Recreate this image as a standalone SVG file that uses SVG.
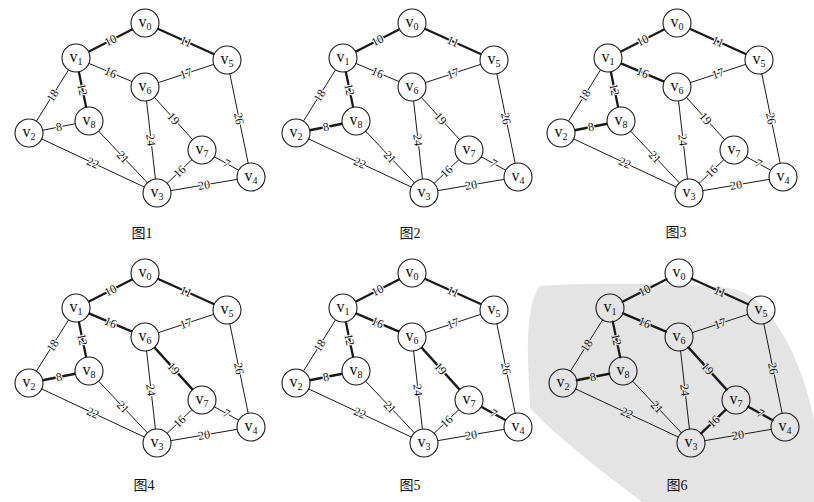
<svg xmlns="http://www.w3.org/2000/svg" width="814" height="502" viewBox="0 0 814 502">
<style>
.bg{fill:#ffffff}
.wm{fill:#e4e4e4}
.edges line{stroke:#1a1a1a;stroke-width:1;stroke-linecap:round}
.edges line.mst{stroke-width:2.3}
.w{font-family:"Liberation Serif","Times New Roman",serif;font-size:12px;fill:#111111;text-anchor:middle;dominant-baseline:central;stroke:#ffffff;stroke-width:2.2px;paint-order:stroke;stroke-linejoin:round}
.gray .w{stroke:#e4e4e4}
.node circle{fill:#ffffff;stroke:#1a1a1a;stroke-width:1.1}
.gray .node circle{fill:none}
.node text{font-family:"Liberation Serif","Times New Roman",serif;font-size:16px;fill:#111111;text-anchor:middle}
.node tspan{font-size:10px}
.cap{font-family:"Liberation Serif","Noto Sans CJK SC",serif;font-size:14px;fill:#111111;text-anchor:middle}
</style>
<rect class="bg" x="0" y="0" width="814" height="502"/>
<path class="wm" d="M540,286 C531,296 527,325 528,360 L530,408 C560,440 600,470 642,502 L814,502 L814,420 C806,380 792,345 772,318 C758,300 748,291 728,288 C690,284 600,282 540,286 Z"/>

<g id="fig1">
<g id="fig1-connectors" class="edges">
<line class="mst" x1="132.51" y1="29.33" x2="88.49" y2="51.67"/>
<line class="mst" x1="157.76" y1="28.76" x2="214.24" y2="54.24"/>
<line x1="88.91" y1="63.42" x2="132.09" y2="81.58"/>
<line x1="213.70" y1="64.38" x2="158.30" y2="82.62"/>
<line x1="68.57" y1="69.86" x2="36.43" y2="121.14"/>
<line class="mst" x1="78.83" y1="71.71" x2="86.17" y2="107.29"/>
<line x1="42.73" y1="130.25" x2="75.27" y2="123.75"/>
<line x1="146.57" y1="100.91" x2="155.43" y2="179.09"/>
<line x1="154.39" y1="97.38" x2="192.61" y2="139.62"/>
<line x1="229.81" y1="73.71" x2="248.19" y2="163.29"/>
<line x1="98.61" y1="131.18" x2="147.39" y2="182.82"/>
<line x1="41.68" y1="138.94" x2="144.32" y2="187.06"/>
<line x1="191.88" y1="159.67" x2="167.12" y2="183.33"/>
<line x1="214.26" y1="156.76" x2="238.74" y2="170.24"/>
<line x1="170.80" y1="190.65" x2="237.20" y2="179.35"/>
<text class="w" x="110.5" y="40.5" transform="rotate(-26.9 110.5 40.5)">10</text>
<text class="w" x="186" y="41.5" transform="rotate(24.3 186 41.5)">11</text>
<text class="w" x="110.5" y="72.5" transform="rotate(22.8 110.5 72.5)">16</text>
<text class="w" x="186" y="73.5" transform="rotate(-18.2 186 73.5)">17</text>
<text class="w" x="52.5" y="95.5" transform="rotate(-57.9 52.5 95.5)">18</text>
<text class="w" x="82.5" y="89.5" transform="rotate(78.3 82.5 89.5)">12</text>
<text class="w" x="59" y="127" transform="rotate(-11.3 59 127)">8</text>
<text class="w" x="151" y="140" transform="rotate(83.5 151 140)">24</text>
<text class="w" x="173.5" y="118.5" transform="rotate(47.9 173.5 118.5)">19</text>
<text class="w" x="239" y="118.5" transform="rotate(78.4 239 118.5)">26</text>
<text class="w" x="123" y="157" transform="rotate(46.6 123 157)">21</text>
<text class="w" x="93" y="163" transform="rotate(25.1 93 163)">22</text>
<text class="w" x="179.5" y="171.5" transform="rotate(-43.7 179.5 171.5)">16</text>
<text class="w" x="226.5" y="163.5" transform="rotate(28.9 226.5 163.5)">7</text>
<text class="w" x="204" y="185" transform="rotate(-9.7 204 185)">20</text>
</g>
<g id="fig1-v0" class="node"><circle cx="145" cy="23" r="14"/><text x="145" y="27">v<tspan dy="3">0</tspan></text></g>
<g id="fig1-v1" class="node"><circle cx="76" cy="58" r="14"/><text x="76" y="62">v<tspan dy="3">1</tspan></text></g>
<g id="fig1-v2" class="node"><circle cx="29" cy="133" r="14"/><text x="29" y="137">v<tspan dy="3">2</tspan></text></g>
<g id="fig1-v3" class="node"><circle cx="157" cy="193" r="14"/><text x="157" y="197">v<tspan dy="3">3</tspan></text></g>
<g id="fig1-v4" class="node"><circle cx="251" cy="177" r="14"/><text x="251" y="181">v<tspan dy="3">4</tspan></text></g>
<g id="fig1-v5" class="node"><circle cx="227" cy="60" r="14"/><text x="227" y="64">v<tspan dy="3">5</tspan></text></g>
<g id="fig1-v6" class="node"><circle cx="145" cy="87" r="14"/><text x="145" y="91">v<tspan dy="3">6</tspan></text></g>
<g id="fig1-v7" class="node"><circle cx="202" cy="150" r="14"/><text x="202" y="154">v<tspan dy="3">7</tspan></text></g>
<g id="fig1-v8" class="node"><circle cx="89" cy="121" r="14"/><text x="89" y="125">v<tspan dy="3">8</tspan></text></g>
<text id="fig1-caption" class="cap" x="142" y="238">图1</text>
</g>

<g id="fig2" transform="translate(267,0)">
<g id="fig2-connectors" class="edges">
<line class="mst" x1="132.51" y1="29.33" x2="88.49" y2="51.67"/>
<line class="mst" x1="157.76" y1="28.76" x2="214.24" y2="54.24"/>
<line x1="88.91" y1="63.42" x2="132.09" y2="81.58"/>
<line x1="213.70" y1="64.38" x2="158.30" y2="82.62"/>
<line x1="68.57" y1="69.86" x2="36.43" y2="121.14"/>
<line class="mst" x1="78.83" y1="71.71" x2="86.17" y2="107.29"/>
<line class="mst" x1="42.73" y1="130.25" x2="75.27" y2="123.75"/>
<line x1="146.57" y1="100.91" x2="155.43" y2="179.09"/>
<line x1="154.39" y1="97.38" x2="192.61" y2="139.62"/>
<line x1="229.81" y1="73.71" x2="248.19" y2="163.29"/>
<line x1="98.61" y1="131.18" x2="147.39" y2="182.82"/>
<line x1="41.68" y1="138.94" x2="144.32" y2="187.06"/>
<line x1="191.88" y1="159.67" x2="167.12" y2="183.33"/>
<line x1="214.26" y1="156.76" x2="238.74" y2="170.24"/>
<line x1="170.80" y1="190.65" x2="237.20" y2="179.35"/>
<text class="w" x="110.5" y="40.5" transform="rotate(-26.9 110.5 40.5)">10</text>
<text class="w" x="186" y="41.5" transform="rotate(24.3 186 41.5)">11</text>
<text class="w" x="110.5" y="72.5" transform="rotate(22.8 110.5 72.5)">16</text>
<text class="w" x="186" y="73.5" transform="rotate(-18.2 186 73.5)">17</text>
<text class="w" x="52.5" y="95.5" transform="rotate(-57.9 52.5 95.5)">18</text>
<text class="w" x="82.5" y="89.5" transform="rotate(78.3 82.5 89.5)">12</text>
<text class="w" x="59" y="127" transform="rotate(-11.3 59 127)">8</text>
<text class="w" x="151" y="140" transform="rotate(83.5 151 140)">24</text>
<text class="w" x="173.5" y="118.5" transform="rotate(47.9 173.5 118.5)">19</text>
<text class="w" x="239" y="118.5" transform="rotate(78.4 239 118.5)">26</text>
<text class="w" x="123" y="157" transform="rotate(46.6 123 157)">21</text>
<text class="w" x="93" y="163" transform="rotate(25.1 93 163)">22</text>
<text class="w" x="179.5" y="171.5" transform="rotate(-43.7 179.5 171.5)">16</text>
<text class="w" x="226.5" y="163.5" transform="rotate(28.9 226.5 163.5)">7</text>
<text class="w" x="204" y="185" transform="rotate(-9.7 204 185)">20</text>
</g>
<g id="fig2-v0" class="node"><circle cx="145" cy="23" r="14"/><text x="145" y="27">v<tspan dy="3">0</tspan></text></g>
<g id="fig2-v1" class="node"><circle cx="76" cy="58" r="14"/><text x="76" y="62">v<tspan dy="3">1</tspan></text></g>
<g id="fig2-v2" class="node"><circle cx="29" cy="133" r="14"/><text x="29" y="137">v<tspan dy="3">2</tspan></text></g>
<g id="fig2-v3" class="node"><circle cx="157" cy="193" r="14"/><text x="157" y="197">v<tspan dy="3">3</tspan></text></g>
<g id="fig2-v4" class="node"><circle cx="251" cy="177" r="14"/><text x="251" y="181">v<tspan dy="3">4</tspan></text></g>
<g id="fig2-v5" class="node"><circle cx="227" cy="60" r="14"/><text x="227" y="64">v<tspan dy="3">5</tspan></text></g>
<g id="fig2-v6" class="node"><circle cx="145" cy="87" r="14"/><text x="145" y="91">v<tspan dy="3">6</tspan></text></g>
<g id="fig2-v7" class="node"><circle cx="202" cy="150" r="14"/><text x="202" y="154">v<tspan dy="3">7</tspan></text></g>
<g id="fig2-v8" class="node"><circle cx="89" cy="121" r="14"/><text x="89" y="125">v<tspan dy="3">8</tspan></text></g>
<text id="fig2-caption" class="cap" x="143" y="238">图2</text>
</g>

<g id="fig3" transform="translate(532,0)">
<g id="fig3-connectors" class="edges">
<line class="mst" x1="132.51" y1="29.33" x2="88.49" y2="51.67"/>
<line class="mst" x1="157.76" y1="28.76" x2="214.24" y2="54.24"/>
<line class="mst" x1="88.91" y1="63.42" x2="132.09" y2="81.58"/>
<line x1="213.70" y1="64.38" x2="158.30" y2="82.62"/>
<line x1="68.57" y1="69.86" x2="36.43" y2="121.14"/>
<line class="mst" x1="78.83" y1="71.71" x2="86.17" y2="107.29"/>
<line class="mst" x1="42.73" y1="130.25" x2="75.27" y2="123.75"/>
<line x1="146.57" y1="100.91" x2="155.43" y2="179.09"/>
<line x1="154.39" y1="97.38" x2="192.61" y2="139.62"/>
<line x1="229.81" y1="73.71" x2="248.19" y2="163.29"/>
<line x1="98.61" y1="131.18" x2="147.39" y2="182.82"/>
<line x1="41.68" y1="138.94" x2="144.32" y2="187.06"/>
<line x1="191.88" y1="159.67" x2="167.12" y2="183.33"/>
<line x1="214.26" y1="156.76" x2="238.74" y2="170.24"/>
<line x1="170.80" y1="190.65" x2="237.20" y2="179.35"/>
<text class="w" x="110.5" y="40.5" transform="rotate(-26.9 110.5 40.5)">10</text>
<text class="w" x="186" y="41.5" transform="rotate(24.3 186 41.5)">11</text>
<text class="w" x="110.5" y="72.5" transform="rotate(22.8 110.5 72.5)">16</text>
<text class="w" x="186" y="73.5" transform="rotate(-18.2 186 73.5)">17</text>
<text class="w" x="52.5" y="95.5" transform="rotate(-57.9 52.5 95.5)">18</text>
<text class="w" x="82.5" y="89.5" transform="rotate(78.3 82.5 89.5)">12</text>
<text class="w" x="59" y="127" transform="rotate(-11.3 59 127)">8</text>
<text class="w" x="151" y="140" transform="rotate(83.5 151 140)">24</text>
<text class="w" x="173.5" y="118.5" transform="rotate(47.9 173.5 118.5)">19</text>
<text class="w" x="239" y="118.5" transform="rotate(78.4 239 118.5)">26</text>
<text class="w" x="123" y="157" transform="rotate(46.6 123 157)">21</text>
<text class="w" x="93" y="163" transform="rotate(25.1 93 163)">22</text>
<text class="w" x="179.5" y="171.5" transform="rotate(-43.7 179.5 171.5)">16</text>
<text class="w" x="226.5" y="163.5" transform="rotate(28.9 226.5 163.5)">7</text>
<text class="w" x="204" y="185" transform="rotate(-9.7 204 185)">20</text>
</g>
<g id="fig3-v0" class="node"><circle cx="145" cy="23" r="14"/><text x="145" y="27">v<tspan dy="3">0</tspan></text></g>
<g id="fig3-v1" class="node"><circle cx="76" cy="58" r="14"/><text x="76" y="62">v<tspan dy="3">1</tspan></text></g>
<g id="fig3-v2" class="node"><circle cx="29" cy="133" r="14"/><text x="29" y="137">v<tspan dy="3">2</tspan></text></g>
<g id="fig3-v3" class="node"><circle cx="157" cy="193" r="14"/><text x="157" y="197">v<tspan dy="3">3</tspan></text></g>
<g id="fig3-v4" class="node"><circle cx="251" cy="177" r="14"/><text x="251" y="181">v<tspan dy="3">4</tspan></text></g>
<g id="fig3-v5" class="node"><circle cx="227" cy="60" r="14"/><text x="227" y="64">v<tspan dy="3">5</tspan></text></g>
<g id="fig3-v6" class="node"><circle cx="145" cy="87" r="14"/><text x="145" y="91">v<tspan dy="3">6</tspan></text></g>
<g id="fig3-v7" class="node"><circle cx="202" cy="150" r="14"/><text x="202" y="154">v<tspan dy="3">7</tspan></text></g>
<g id="fig3-v8" class="node"><circle cx="89" cy="121" r="14"/><text x="89" y="125">v<tspan dy="3">8</tspan></text></g>
<text id="fig3-caption" class="cap" x="144" y="237">图3</text>
</g>

<g id="fig4" transform="translate(0,250)">
<g id="fig4-connectors" class="edges">
<line class="mst" x1="132.51" y1="29.33" x2="88.49" y2="51.67"/>
<line class="mst" x1="157.76" y1="28.76" x2="214.24" y2="54.24"/>
<line class="mst" x1="88.91" y1="63.42" x2="132.09" y2="81.58"/>
<line x1="213.70" y1="64.38" x2="158.30" y2="82.62"/>
<line x1="68.57" y1="69.86" x2="36.43" y2="121.14"/>
<line class="mst" x1="78.83" y1="71.71" x2="86.17" y2="107.29"/>
<line class="mst" x1="42.73" y1="130.25" x2="75.27" y2="123.75"/>
<line x1="146.57" y1="100.91" x2="155.43" y2="179.09"/>
<line class="mst" x1="154.39" y1="97.38" x2="192.61" y2="139.62"/>
<line x1="229.81" y1="73.71" x2="248.19" y2="163.29"/>
<line x1="98.61" y1="131.18" x2="147.39" y2="182.82"/>
<line x1="41.68" y1="138.94" x2="144.32" y2="187.06"/>
<line x1="191.88" y1="159.67" x2="167.12" y2="183.33"/>
<line x1="214.26" y1="156.76" x2="238.74" y2="170.24"/>
<line x1="170.80" y1="190.65" x2="237.20" y2="179.35"/>
<text class="w" x="110.5" y="40.5" transform="rotate(-26.9 110.5 40.5)">10</text>
<text class="w" x="186" y="41.5" transform="rotate(24.3 186 41.5)">11</text>
<text class="w" x="110.5" y="72.5" transform="rotate(22.8 110.5 72.5)">16</text>
<text class="w" x="186" y="73.5" transform="rotate(-18.2 186 73.5)">17</text>
<text class="w" x="52.5" y="95.5" transform="rotate(-57.9 52.5 95.5)">18</text>
<text class="w" x="82.5" y="89.5" transform="rotate(78.3 82.5 89.5)">12</text>
<text class="w" x="59" y="127" transform="rotate(-11.3 59 127)">8</text>
<text class="w" x="151" y="140" transform="rotate(83.5 151 140)">24</text>
<text class="w" x="173.5" y="118.5" transform="rotate(47.9 173.5 118.5)">19</text>
<text class="w" x="239" y="118.5" transform="rotate(78.4 239 118.5)">26</text>
<text class="w" x="123" y="157" transform="rotate(46.6 123 157)">21</text>
<text class="w" x="93" y="163" transform="rotate(25.1 93 163)">22</text>
<text class="w" x="179.5" y="171.5" transform="rotate(-43.7 179.5 171.5)">16</text>
<text class="w" x="226.5" y="163.5" transform="rotate(28.9 226.5 163.5)">7</text>
<text class="w" x="204" y="185" transform="rotate(-9.7 204 185)">20</text>
</g>
<g id="fig4-v0" class="node"><circle cx="145" cy="23" r="14"/><text x="145" y="27">v<tspan dy="3">0</tspan></text></g>
<g id="fig4-v1" class="node"><circle cx="76" cy="58" r="14"/><text x="76" y="62">v<tspan dy="3">1</tspan></text></g>
<g id="fig4-v2" class="node"><circle cx="29" cy="133" r="14"/><text x="29" y="137">v<tspan dy="3">2</tspan></text></g>
<g id="fig4-v3" class="node"><circle cx="157" cy="193" r="14"/><text x="157" y="197">v<tspan dy="3">3</tspan></text></g>
<g id="fig4-v4" class="node"><circle cx="251" cy="177" r="14"/><text x="251" y="181">v<tspan dy="3">4</tspan></text></g>
<g id="fig4-v5" class="node"><circle cx="227" cy="60" r="14"/><text x="227" y="64">v<tspan dy="3">5</tspan></text></g>
<g id="fig4-v6" class="node"><circle cx="145" cy="87" r="14"/><text x="145" y="91">v<tspan dy="3">6</tspan></text></g>
<g id="fig4-v7" class="node"><circle cx="202" cy="150" r="14"/><text x="202" y="154">v<tspan dy="3">7</tspan></text></g>
<g id="fig4-v8" class="node"><circle cx="89" cy="121" r="14"/><text x="89" y="125">v<tspan dy="3">8</tspan></text></g>
<text id="fig4-caption" class="cap" x="144" y="240">图4</text>
</g>

<g id="fig5" transform="translate(267,250)">
<g id="fig5-connectors" class="edges">
<line class="mst" x1="132.51" y1="29.33" x2="88.49" y2="51.67"/>
<line class="mst" x1="157.76" y1="28.76" x2="214.24" y2="54.24"/>
<line class="mst" x1="88.91" y1="63.42" x2="132.09" y2="81.58"/>
<line x1="213.70" y1="64.38" x2="158.30" y2="82.62"/>
<line x1="68.57" y1="69.86" x2="36.43" y2="121.14"/>
<line class="mst" x1="78.83" y1="71.71" x2="86.17" y2="107.29"/>
<line class="mst" x1="42.73" y1="130.25" x2="75.27" y2="123.75"/>
<line x1="146.57" y1="100.91" x2="155.43" y2="179.09"/>
<line class="mst" x1="154.39" y1="97.38" x2="192.61" y2="139.62"/>
<line x1="229.81" y1="73.71" x2="248.19" y2="163.29"/>
<line x1="98.61" y1="131.18" x2="147.39" y2="182.82"/>
<line x1="41.68" y1="138.94" x2="144.32" y2="187.06"/>
<line x1="191.88" y1="159.67" x2="167.12" y2="183.33"/>
<line class="mst" x1="214.26" y1="156.76" x2="238.74" y2="170.24"/>
<line x1="170.80" y1="190.65" x2="237.20" y2="179.35"/>
<text class="w" x="110.5" y="40.5" transform="rotate(-26.9 110.5 40.5)">10</text>
<text class="w" x="186" y="41.5" transform="rotate(24.3 186 41.5)">11</text>
<text class="w" x="110.5" y="72.5" transform="rotate(22.8 110.5 72.5)">16</text>
<text class="w" x="186" y="73.5" transform="rotate(-18.2 186 73.5)">17</text>
<text class="w" x="52.5" y="95.5" transform="rotate(-57.9 52.5 95.5)">18</text>
<text class="w" x="82.5" y="89.5" transform="rotate(78.3 82.5 89.5)">12</text>
<text class="w" x="59" y="127" transform="rotate(-11.3 59 127)">8</text>
<text class="w" x="151" y="140" transform="rotate(83.5 151 140)">24</text>
<text class="w" x="173.5" y="118.5" transform="rotate(47.9 173.5 118.5)">19</text>
<text class="w" x="239" y="118.5" transform="rotate(78.4 239 118.5)">26</text>
<text class="w" x="123" y="157" transform="rotate(46.6 123 157)">21</text>
<text class="w" x="93" y="163" transform="rotate(25.1 93 163)">22</text>
<text class="w" x="179.5" y="171.5" transform="rotate(-43.7 179.5 171.5)">16</text>
<text class="w" x="226.5" y="163.5" transform="rotate(28.9 226.5 163.5)">7</text>
<text class="w" x="204" y="185" transform="rotate(-9.7 204 185)">20</text>
</g>
<g id="fig5-v0" class="node"><circle cx="145" cy="23" r="14"/><text x="145" y="27">v<tspan dy="3">0</tspan></text></g>
<g id="fig5-v1" class="node"><circle cx="76" cy="58" r="14"/><text x="76" y="62">v<tspan dy="3">1</tspan></text></g>
<g id="fig5-v2" class="node"><circle cx="29" cy="133" r="14"/><text x="29" y="137">v<tspan dy="3">2</tspan></text></g>
<g id="fig5-v3" class="node"><circle cx="157" cy="193" r="14"/><text x="157" y="197">v<tspan dy="3">3</tspan></text></g>
<g id="fig5-v4" class="node"><circle cx="251" cy="177" r="14"/><text x="251" y="181">v<tspan dy="3">4</tspan></text></g>
<g id="fig5-v5" class="node"><circle cx="227" cy="60" r="14"/><text x="227" y="64">v<tspan dy="3">5</tspan></text></g>
<g id="fig5-v6" class="node"><circle cx="145" cy="87" r="14"/><text x="145" y="91">v<tspan dy="3">6</tspan></text></g>
<g id="fig5-v7" class="node"><circle cx="202" cy="150" r="14"/><text x="202" y="154">v<tspan dy="3">7</tspan></text></g>
<g id="fig5-v8" class="node"><circle cx="89" cy="121" r="14"/><text x="89" y="125">v<tspan dy="3">8</tspan></text></g>
<text id="fig5-caption" class="cap" x="143" y="240">图5</text>
</g>

<g id="fig6" class="gray" transform="translate(534,250)">
<g id="fig6-connectors" class="edges">
<line class="mst" x1="132.51" y1="29.33" x2="88.49" y2="51.67"/>
<line class="mst" x1="157.76" y1="28.76" x2="214.24" y2="54.24"/>
<line class="mst" x1="88.91" y1="63.42" x2="132.09" y2="81.58"/>
<line x1="213.70" y1="64.38" x2="158.30" y2="82.62"/>
<line x1="68.57" y1="69.86" x2="36.43" y2="121.14"/>
<line class="mst" x1="78.83" y1="71.71" x2="86.17" y2="107.29"/>
<line class="mst" x1="42.73" y1="130.25" x2="75.27" y2="123.75"/>
<line x1="146.57" y1="100.91" x2="155.43" y2="179.09"/>
<line class="mst" x1="154.39" y1="97.38" x2="192.61" y2="139.62"/>
<line x1="229.81" y1="73.71" x2="248.19" y2="163.29"/>
<line x1="98.61" y1="131.18" x2="147.39" y2="182.82"/>
<line x1="41.68" y1="138.94" x2="144.32" y2="187.06"/>
<line class="mst" x1="191.88" y1="159.67" x2="167.12" y2="183.33"/>
<line class="mst" x1="214.26" y1="156.76" x2="238.74" y2="170.24"/>
<line x1="170.80" y1="190.65" x2="237.20" y2="179.35"/>
<text class="w" x="110.5" y="40.5" transform="rotate(-26.9 110.5 40.5)">10</text>
<text class="w" x="186" y="41.5" transform="rotate(24.3 186 41.5)">11</text>
<text class="w" x="110.5" y="72.5" transform="rotate(22.8 110.5 72.5)">16</text>
<text class="w" x="186" y="73.5" transform="rotate(-18.2 186 73.5)">17</text>
<text class="w" x="52.5" y="95.5" transform="rotate(-57.9 52.5 95.5)">18</text>
<text class="w" x="82.5" y="89.5" transform="rotate(78.3 82.5 89.5)">12</text>
<text class="w" x="59" y="127" transform="rotate(-11.3 59 127)">8</text>
<text class="w" x="151" y="140" transform="rotate(83.5 151 140)">24</text>
<text class="w" x="173.5" y="118.5" transform="rotate(47.9 173.5 118.5)">19</text>
<text class="w" x="239" y="118.5" transform="rotate(78.4 239 118.5)">26</text>
<text class="w" x="123" y="157" transform="rotate(46.6 123 157)">21</text>
<text class="w" x="93" y="163" transform="rotate(25.1 93 163)">22</text>
<text class="w" x="179.5" y="171.5" transform="rotate(-43.7 179.5 171.5)">16</text>
<text class="w" x="226.5" y="163.5" transform="rotate(28.9 226.5 163.5)">7</text>
<text class="w" x="204" y="185" transform="rotate(-9.7 204 185)">20</text>
</g>
<g id="fig6-v0" class="node"><circle cx="145" cy="23" r="14"/><text x="145" y="27">v<tspan dy="3">0</tspan></text></g>
<g id="fig6-v1" class="node"><circle cx="76" cy="58" r="14"/><text x="76" y="62">v<tspan dy="3">1</tspan></text></g>
<g id="fig6-v2" class="node"><circle cx="29" cy="133" r="14"/><text x="29" y="137">v<tspan dy="3">2</tspan></text></g>
<g id="fig6-v3" class="node"><circle cx="157" cy="193" r="14"/><text x="157" y="197">v<tspan dy="3">3</tspan></text></g>
<g id="fig6-v4" class="node"><circle cx="251" cy="177" r="14"/><text x="251" y="181">v<tspan dy="3">4</tspan></text></g>
<g id="fig6-v5" class="node"><circle cx="227" cy="60" r="14"/><text x="227" y="64">v<tspan dy="3">5</tspan></text></g>
<g id="fig6-v6" class="node"><circle cx="145" cy="87" r="14"/><text x="145" y="91">v<tspan dy="3">6</tspan></text></g>
<g id="fig6-v7" class="node"><circle cx="202" cy="150" r="14"/><text x="202" y="154">v<tspan dy="3">7</tspan></text></g>
<g id="fig6-v8" class="node"><circle cx="89" cy="121" r="14"/><text x="89" y="125">v<tspan dy="3">8</tspan></text></g>
<text id="fig6-caption" class="cap" x="143" y="240">图6</text>
</g>
</svg>
